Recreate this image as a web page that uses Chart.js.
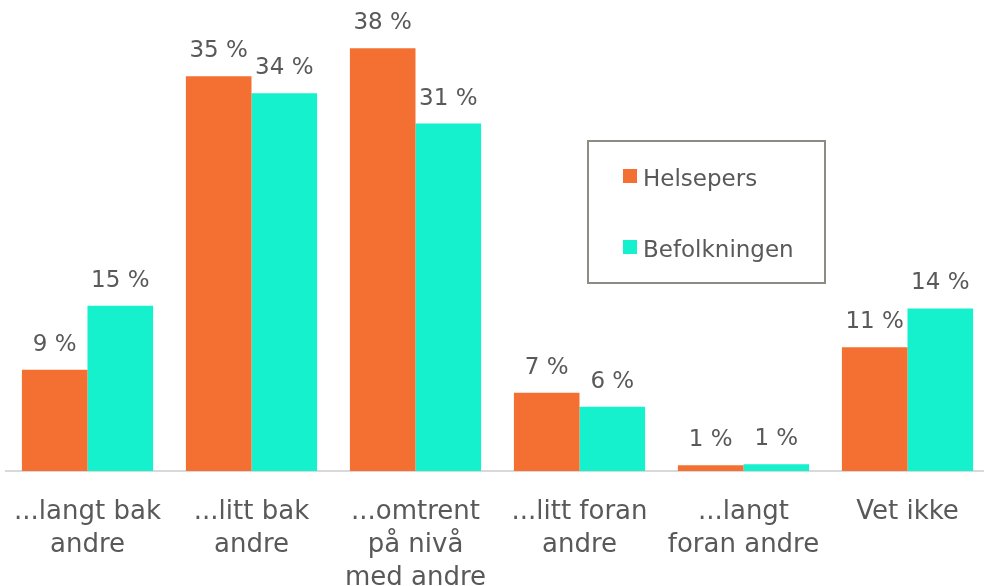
<!DOCTYPE html>
<html>
<head>
<meta charset="utf-8">
<script src="https://cdn.jsdelivr.net/npm/chart.js@4/dist/chart.umd.min.js"></script>
<style>
html,body{margin:0;padding:0;background:#fff;overflow:hidden;}
#wrap{position:absolute;left:0;top:0;width:992px;height:620px;}
</style>
</head>
<body>
<div id="wrap"><canvas id="c"></canvas></div>
<script>
const categories = [
  ["...langt bak", "andre"],
  ["...litt bak", "andre"],
  ["...omtrent", "på nivå", "med andre"],
  ["...litt foran", "andre"],
  ["...langt", "foran andre"],
  "Vet ikke"
];
const seriesNames = ["Helsepers", "Befolkningen"];
const helsepers = [9.0, 35.1, 37.6, 6.95, 0.5, 11.0];
const befolkningen = [14.7, 33.6, 30.9, 5.7, 0.6, 14.45];
const helsepersLabels = ["9 %", "35 %", "38 %", "7 %", "1 %", "11 %"];
const befolkningenLabels = ["15 %", "34 %", "31 %", "6 %", "1 %", "14 %"];
const colors = ["#F37032", "#15F0CD"];

const FONT = "'DejaVu Sans', sans-serif";
const TEXT = "#595959";

const labelPlugin = {
  id: 'valueLabels',
  afterDatasetsDraw(chart) {
    const ctx = chart.ctx;
    const labelSets = [helsepersLabels, befolkningenLabels];
    ctx.save();
    ctx.font = "23px " + FONT;
    ctx.fillStyle = TEXT;
    ctx.textAlign = "center";
    ctx.textBaseline = "alphabetic";
    chart.data.datasets.forEach((ds, i) => {
      const meta = chart.getDatasetMeta(i);
      meta.data.forEach((bar, j) => {
        ctx.fillText(labelSets[i][j], bar.x, bar.y - 19);
      });
    });
    ctx.restore();
  }
};

const legendPlugin = {
  id: 'boxLegend',
  afterDraw(chart) {
    const ctx = chart.ctx;
    ctx.save();
    ctx.strokeStyle = "#8C8C82";
    ctx.lineWidth = 2;
    ctx.strokeRect(588, 141, 237, 142);
    ctx.font = "23px " + FONT;
    ctx.textBaseline = "alphabetic";
    ctx.textAlign = "left";
    const ys = [169, 240];
    chart.data.datasets.forEach((ds, i) => {
      ctx.fillStyle = ds.backgroundColor;
      ctx.fillRect(623, ys[i], 14, 14);
      ctx.fillStyle = TEXT;
      ctx.fillText(ds.label, 643, ys[i] + 17);
    });
    ctx.restore();
  }
};

new Chart(document.getElementById('c'), {
  type: 'bar',
  data: {
    labels: categories,
    datasets: [
      { label: seriesNames[0], data: helsepers, backgroundColor: colors[0] },
      { label: seriesNames[1], data: befolkningen, backgroundColor: colors[1] }
    ]
  },
  options: {
    responsive: true,
    maintainAspectRatio: false,
    animation: false,
    events: [],
    layout: { padding: { left: 5.5, right: 2.5, top: 21.2, bottom: 0 } },
    datasets: { bar: { categoryPercentage: 0.8, barPercentage: 1.0 } },
    plugins: { legend: { display: false }, tooltip: { enabled: false } },
    scales: {
      x: {
        grid: { display: false, drawTicks: false },
        border: { display: true, color: "#D9D9D9", width: 2 },
        afterFit(scale) { scale.paddingLeft = 0; scale.paddingRight = 0; },
        ticks: {
          color: TEXT,
          font: { family: FONT, size: 26, lineHeight: 1.27 },
          padding: 25,
          maxRotation: 0,
          autoSkip: false
        }
      },
      y: {
        display: false,
        min: 0,
        max: 40
      }
    }
  },
  plugins: [labelPlugin, legendPlugin]
});
</script>
</body>
</html>
